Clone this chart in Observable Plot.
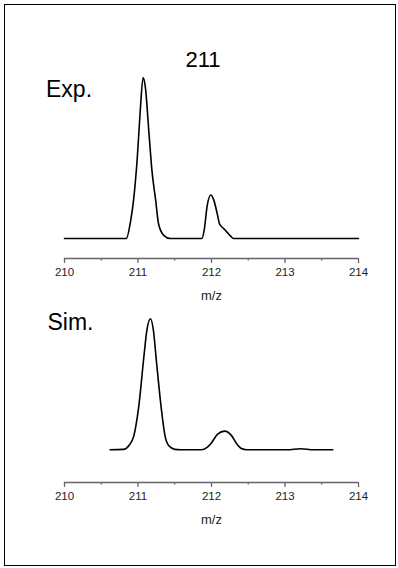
<!DOCTYPE html>
<html><head><meta charset="utf-8">
<script src="https://cdn.jsdelivr.net/npm/d3@7"></script>
<script src="https://cdn.jsdelivr.net/npm/@observablehq/plot@0.6"></script>
<style>
body{margin:0;background:#fff;font-family:"Liberation Sans",Arial,sans-serif;}
#wrap{position:relative;width:398px;height:568px;overflow:hidden;background:#fff;}
.frame{position:absolute;left:4px;top:4px;width:392px;height:562px;box-sizing:border-box;border:1.5px solid #000;pointer-events:none;}
.lbl{position:absolute;line-height:1;color:#000;white-space:nowrap;font-family:"Liberation Sans",Arial,sans-serif;}
.panel{position:absolute;left:0;}
</style></head><body>
<div id="wrap">
  <div class="panel" id="top" style="top:0px"></div>
  <div class="panel" id="bot" style="top:300px"></div>
  <div class="lbl" style="left:153px;width:100px;text-align:center;top:48.5px;font-size:22px;">211</div>
  <div class="lbl" style="left:46px;top:77.5px;font-size:23px;">Exp.</div>
  <div class="lbl" style="left:47.5px;top:310.5px;font-size:23px;">Sim.</div>
  <div class="frame"></div>
</div>
<script>
// Experimental spectrum (m/z, relative intensity)
const expMz  = [210.00, 210.84, 210.90, 210.94, 210.99, 211.03, 211.07, 211.10, 211.15, 211.19, 211.24, 211.28, 211.35, 211.44, 211.87, 211.90, 211.94, 211.99, 212.03, 212.08, 212.11, 212.17, 212.21, 212.26, 212.30, 214.00];
const expInt = [0, 0, 11, 24, 50, 79, 100, 94, 65, 42, 24, 9, 2, 0, 0, 5, 20, 27, 24, 15, 9, 6, 4, 1.5, 0, 0];

// Simulated spectrum
const simMz  = [210.62, 210.80, 210.88, 210.94, 211.01, 211.08, 211.12, 211.17, 211.21, 211.25, 211.32, 211.37, 211.42, 211.50, 211.58, 211.86, 211.94, 211.99, 212.08, 212.18, 212.27, 212.35, 212.40, 212.48, 213.03, 213.21, 213.39, 213.65];
const simInt = [0, 0.3, 3.5, 10, 33, 71, 91, 100, 91, 68, 30, 10, 3, 0.3, 0, 0, 1.8, 4.6, 11.7, 14.2, 11, 4, 1.2, 0, 0, 0.8, 0, 0];

const majorTicks = [210, 211, 212, 213, 214];
const minorTicks = [210.5, 211.5, 212.5, 213.5];
const xLabel = "m/z";

function panel(mz, inten, {height, marginTop, marginBottom, yMin}) {
  const data = mz.map((x, i) => ({x, y: inten[i]}));
  return Plot.plot({
    width: 398, height, marginLeft: 64, marginRight: 40, marginTop, marginBottom,
    x: {domain: [210, 214]},
    y: {domain: [yMin, 100], axis: null},
    style: {fontFamily: "Liberation Sans, Arial, sans-serif", fontSize: "11.5px", color: "#222", background: "transparent", overflow: "visible"},
    marks: [
      Plot.ruleY([yMin], {stroke: "#666", strokeWidth: 1.3}),
      Plot.axisX({ticks: minorTicks, tickSize: 2.5, text: null, stroke: "#666", strokeWidth: 1.3, label: null}),
      Plot.axisX({ticks: majorTicks, tickSize: 5, tickPadding: 4.5, tickFormat: d => String(d), stroke: "#666", strokeWidth: 1.3, label: null}),
      Plot.text([xLabel], {text: d => d, frameAnchor: "bottom", dy: 41, fontSize: 13, fill: "#222"}),
      Plot.line(data, {x: "x", y: "y", stroke: "#000", strokeWidth: 1.6, curve: "monotone-x"})
    ]
  });
}

document.getElementById("top").append(panel(expMz, expInt, {height: 300, marginTop: 77, marginBottom: 42, yMin: -12.4}));
document.getElementById("bot").append(panel(simMz, simInt, {height: 268, marginTop: 18.3, marginBottom: 86, yMin: -25}));
</script>
</body></html>
